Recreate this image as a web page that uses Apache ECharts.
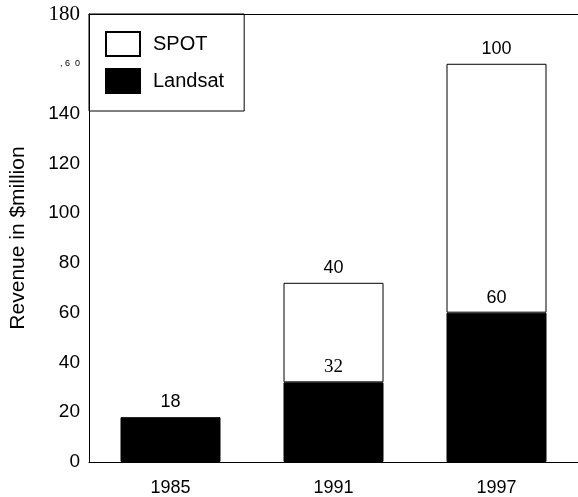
<!DOCTYPE html>
<html>
<head>
<meta charset="utf-8">
<script src="https://cdn.jsdelivr.net/npm/echarts@6/dist/echarts.min.js"></script>
<style>html,body{margin:0;padding:0;background:#fff;}#c{width:578px;height:497px;}</style>
</head>
<body>
<div id="c"></div>
<script>
var categories = ['1985', '1991', '1997'];
var landsat = [18, 32, 60];
var spot = [null, 40, 100];
var yTicks = [0, 20, 40, 60, 80, 100, 120, 140, 160, 180];

var SANS = 'Liberation Sans, Arial, Helvetica, sans-serif';
var SERIF = 'Liberation Serif, Times New Roman, serif';

var chart = echarts.init(document.getElementById('c'), null, {renderer: 'canvas'});

var landsatData = landsat.map(function (v, i) {
  var item = {value: v};
  if (categories[i] === '1991') item.label = {fontFamily: SERIF, fontSize: 19};
  return item;
});

chart.setOption({
  animation: false,
  backgroundColor: '#fff',
  grid: {left: 89, right: -3, top: 14, bottom: 35, containLabel: false},
  legend: {
    left: 89, top: 14, orient: 'vertical',
    itemWidth: 34, itemHeight: 24, itemGap: 11,
    padding: [17, 20, 17, 16],
    borderColor: '#000', borderWidth: 1,
    icon: 'rect',
    data: ['SPOT', 'Landsat'],
    textStyle: {fontFamily: SANS, fontSize: 20, color: '#000', padding: [0, 0, 0, 8]}
  },
  xAxis: [{
    type: 'category', data: categories, position: 'bottom',
    axisLine: {show: true, lineStyle: {color: '#000', width: 1}},
    axisTick: {show: false},
    axisLabel: {color: '#000', fontFamily: SANS, fontSize: 18, margin: 17}
  }, {
    type: 'category', data: categories, position: 'top',
    axisLine: {show: true, lineStyle: {color: '#000', width: 1}},
    axisTick: {show: false}, axisLabel: {show: false}
  }],
  yAxis: {
    type: 'value', min: 0, max: 180, interval: 20,
    name: 'Revenue in $million', nameLocation: 'middle', nameGap: 60,
    nameTextStyle: {color: '#000', fontFamily: SANS, fontSize: 21},
    axisLine: {show: true, lineStyle: {color: '#000', width: 1}},
    axisTick: {show: false},
    splitLine: {show: false},
    axisLabel: {
      color: '#000', fontFamily: SANS, fontSize: 19, margin: 9,
      formatter: function (v) {
        if (v === 180) return '{serif|180}';
        if (v === 160) return '{small|, 6  0}';
        return String(v);
      },
      rich: {
        serif: {fontFamily: SERIF, fontSize: 21, color: '#000'},
        small: {fontFamily: SANS, fontSize: 9, color: '#000'}
      }
    }
  },
  series: [{
    name: 'Landsat', type: 'bar', stack: 'total', barWidth: 100,
    data: landsatData,
    itemStyle: {color: '#000', borderColor: '#000', borderWidth: 1},
    label: {show: true, position: 'top', distance: 6, color: '#000', fontFamily: SANS, fontSize: 18}
  }, {
    name: 'SPOT', type: 'bar', stack: 'total', barWidth: 100,
    data: spot,
    itemStyle: {color: '#fff', borderColor: '#000', borderWidth: 1},
    label: {show: true, position: 'top', distance: 6, color: '#000', fontFamily: SANS, fontSize: 18}
  }]
});
</script>
</body>
</html>
